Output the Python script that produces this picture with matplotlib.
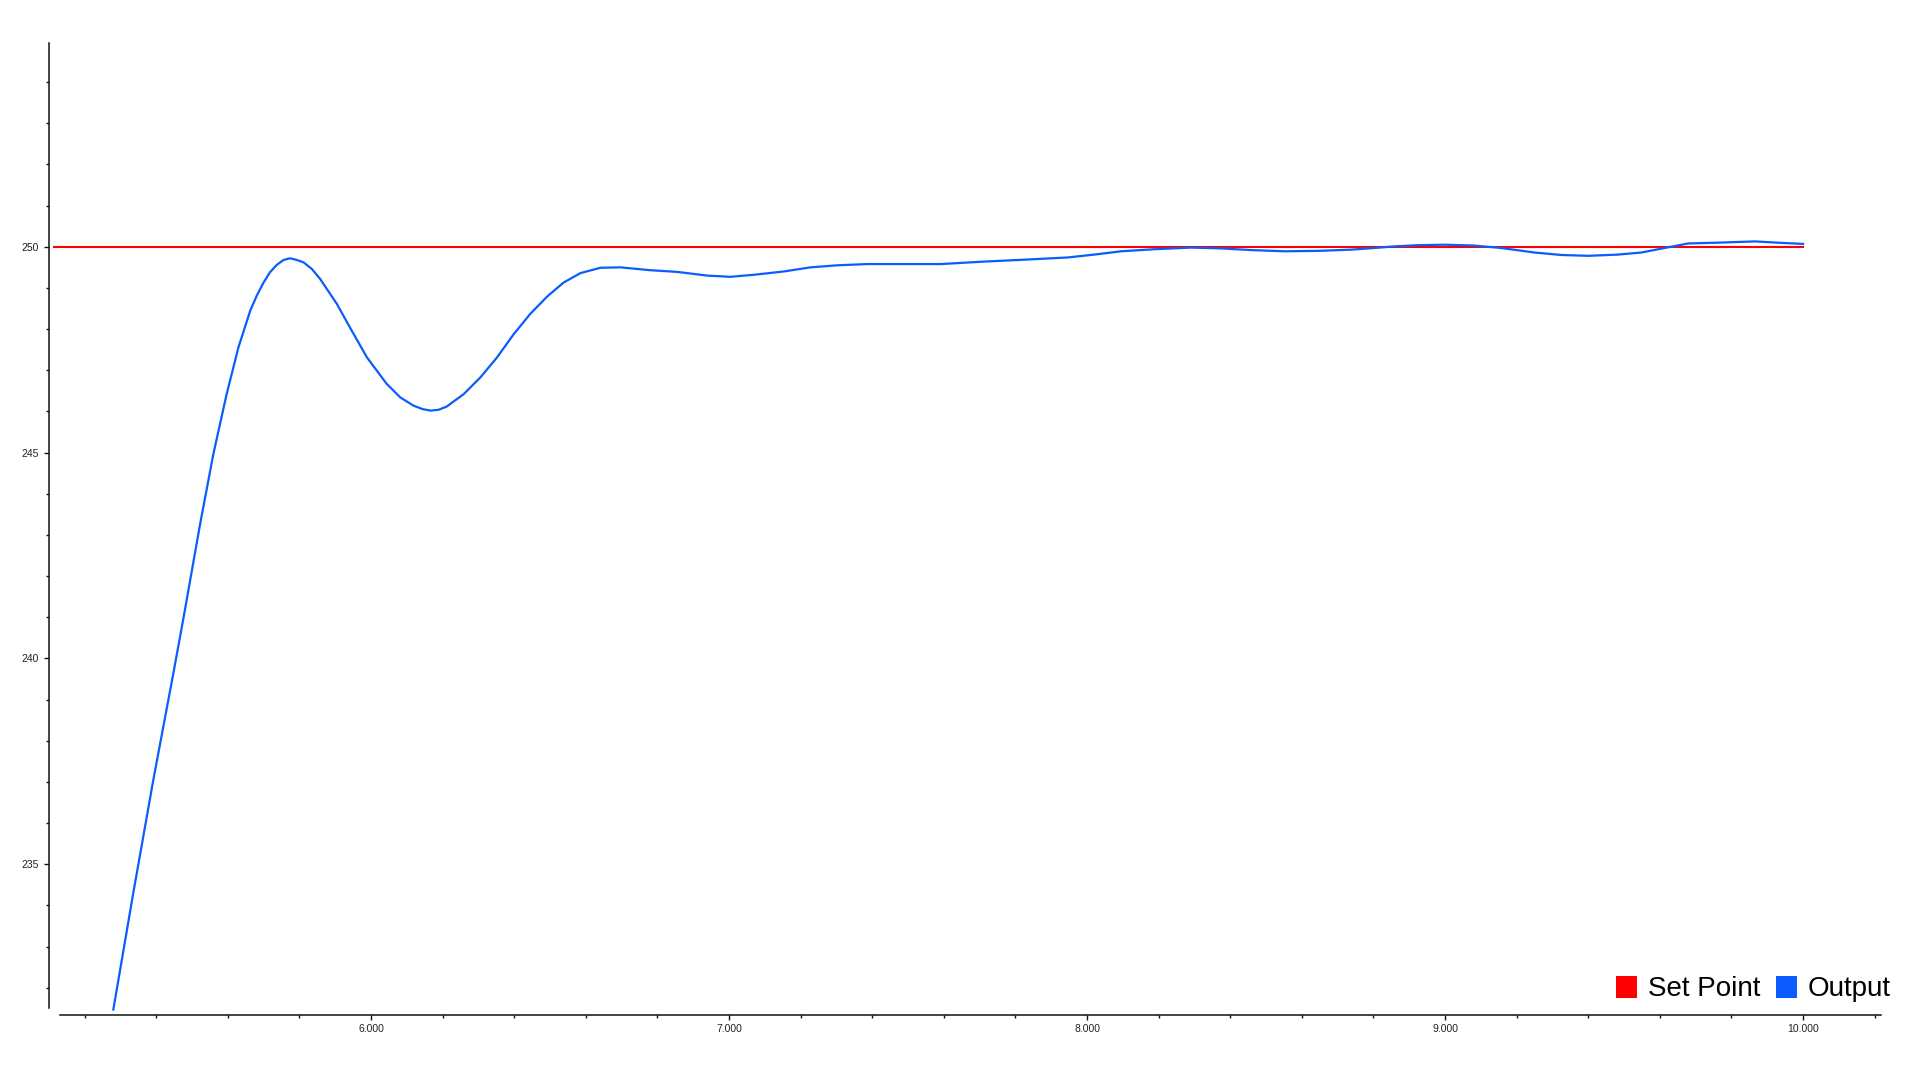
import matplotlib
matplotlib.use("Agg")
import matplotlib.pyplot as plt
from matplotlib.patches import Patch
from matplotlib.ticker import MultipleLocator, FixedLocator, FormatStrFormatter

plt.rcParams['font.family'] = ['Liberation Sans', 'DejaVu Sans']

# ---- data ----
setpoint_x = [5.115, 10.0]
setpoint_y = [250.0, 250.0]

output_x = [5.2805, 5.336, 5.392, 5.448, 5.476, 5.523, 5.560, 5.597, 5.630, 5.663,
            5.681, 5.700, 5.718, 5.737, 5.756, 5.774, 5.793, 5.812, 5.835, 5.858,
            5.905, 5.942, 5.989, 6.044, 6.082, 6.119, 6.143, 6.166, 6.189, 6.212,
            6.259, 6.306, 6.352, 6.399, 6.445, 6.492, 6.538,
            6.585, 6.641, 6.697, 6.781, 6.855, 6.939, 7.004, 7.070, 7.153, 7.228,
            7.303, 7.387, 7.480, 7.592, 7.713, 7.834, 7.946, 8.020, 8.095, 8.188,
            8.290, 8.374, 8.458, 8.551, 8.644, 8.738, 8.803, 8.859, 8.929, 9.000,
            9.080, 9.157, 9.250, 9.325, 9.400, 9.483, 9.548, 9.613, 9.679, 9.763,
            9.866, 9.949, 10.0]
output_y = [231.47, 234.29, 237.04, 239.63, 240.96, 243.27, 244.97, 246.42, 247.56, 248.45,
            248.81, 249.13, 249.38, 249.56, 249.68, 249.72, 249.68, 249.62, 249.46, 249.22,
            248.61, 248.03, 247.31, 246.67, 246.34, 246.14, 246.06, 246.02, 246.04, 246.12,
            246.42, 246.83, 247.31, 247.88, 248.37, 248.79, 249.13,
            249.36, 249.49, 249.50, 249.43, 249.39, 249.30, 249.27, 249.32, 249.40, 249.50,
            249.55, 249.58, 249.58, 249.58, 249.64, 249.69, 249.74, 249.81, 249.89, 249.94,
            249.98, 249.96, 249.92, 249.89, 249.90, 249.93, 249.97, 250.01, 250.04, 250.05,
            250.03, 249.97, 249.86, 249.80, 249.78, 249.81, 249.86, 249.97, 250.08, 250.10,
            250.13, 250.09, 250.07]

x_major = [6, 7, 8, 9, 10]
y_major = [235, 240, 245, 250]
series_names = ["Set Point", "Output"]
series_colors = ["#FF0000", "#0A5CFF"]

# ---- figure ----
fig = plt.figure(figsize=(19.22, 10.66), dpi=100)
ax = fig.add_axes([48.7 / 1922, 1 - 1014.5 / 1066, (1880.8 - 48.7) / 1922, (1014.5 - 43) / 1066])

ax.plot(setpoint_x, setpoint_y, color=series_colors[0], lw=1.5, zorder=2)
ax.plot(output_x, output_y, color=series_colors[1], lw=1.6, zorder=3,
        solid_joinstyle='round')

ax.set_xlim(5.1, 10.217)
ax.set_ylim(231.35, 254.95)

for s in ['top', 'right']:
    ax.spines[s].set_visible(False)
ax.spines['left'].set_bounds(231.5, 254.95)
ax.spines['bottom'].set_bounds(5.131, 10.217)
for s in ['left', 'bottom']:
    ax.spines[s].set_linewidth(1.1)
    ax.spines[s].set_color('#111111')

ax.xaxis.set_major_locator(FixedLocator(x_major))
ax.xaxis.set_minor_locator(MultipleLocator(0.2))
ax.xaxis.set_major_formatter(FormatStrFormatter('%.3f'))
ax.yaxis.set_major_locator(FixedLocator(y_major))
ax.yaxis.set_minor_locator(FixedLocator([v for v in range(232, 255) if v not in y_major]))
ax.yaxis.set_major_formatter(FormatStrFormatter('%d'))

ax.tick_params(axis='both', which='major', direction='out', length=3.8, width=1.0,
               labelsize=7.5, labelcolor='#222222', color='#111111', pad=3)
ax.tick_params(axis='both', which='minor', direction='out', length=2.2, width=1.0,
               color='#111111')

handles = [Patch(facecolor=c, edgecolor='none', label=n) for n, c in zip(series_names, series_colors)]
fig.legend(handles=handles, loc='center right', bbox_to_anchor=(1891 / 1922, 1 - 989 / 1066),
           ncol=2, frameon=False, fontsize=20, handlelength=0.76, handleheight=0.86,
           handletextpad=0.4, columnspacing=0.55, borderpad=0, borderaxespad=0)

fig.savefig("out.png", dpi=100)
